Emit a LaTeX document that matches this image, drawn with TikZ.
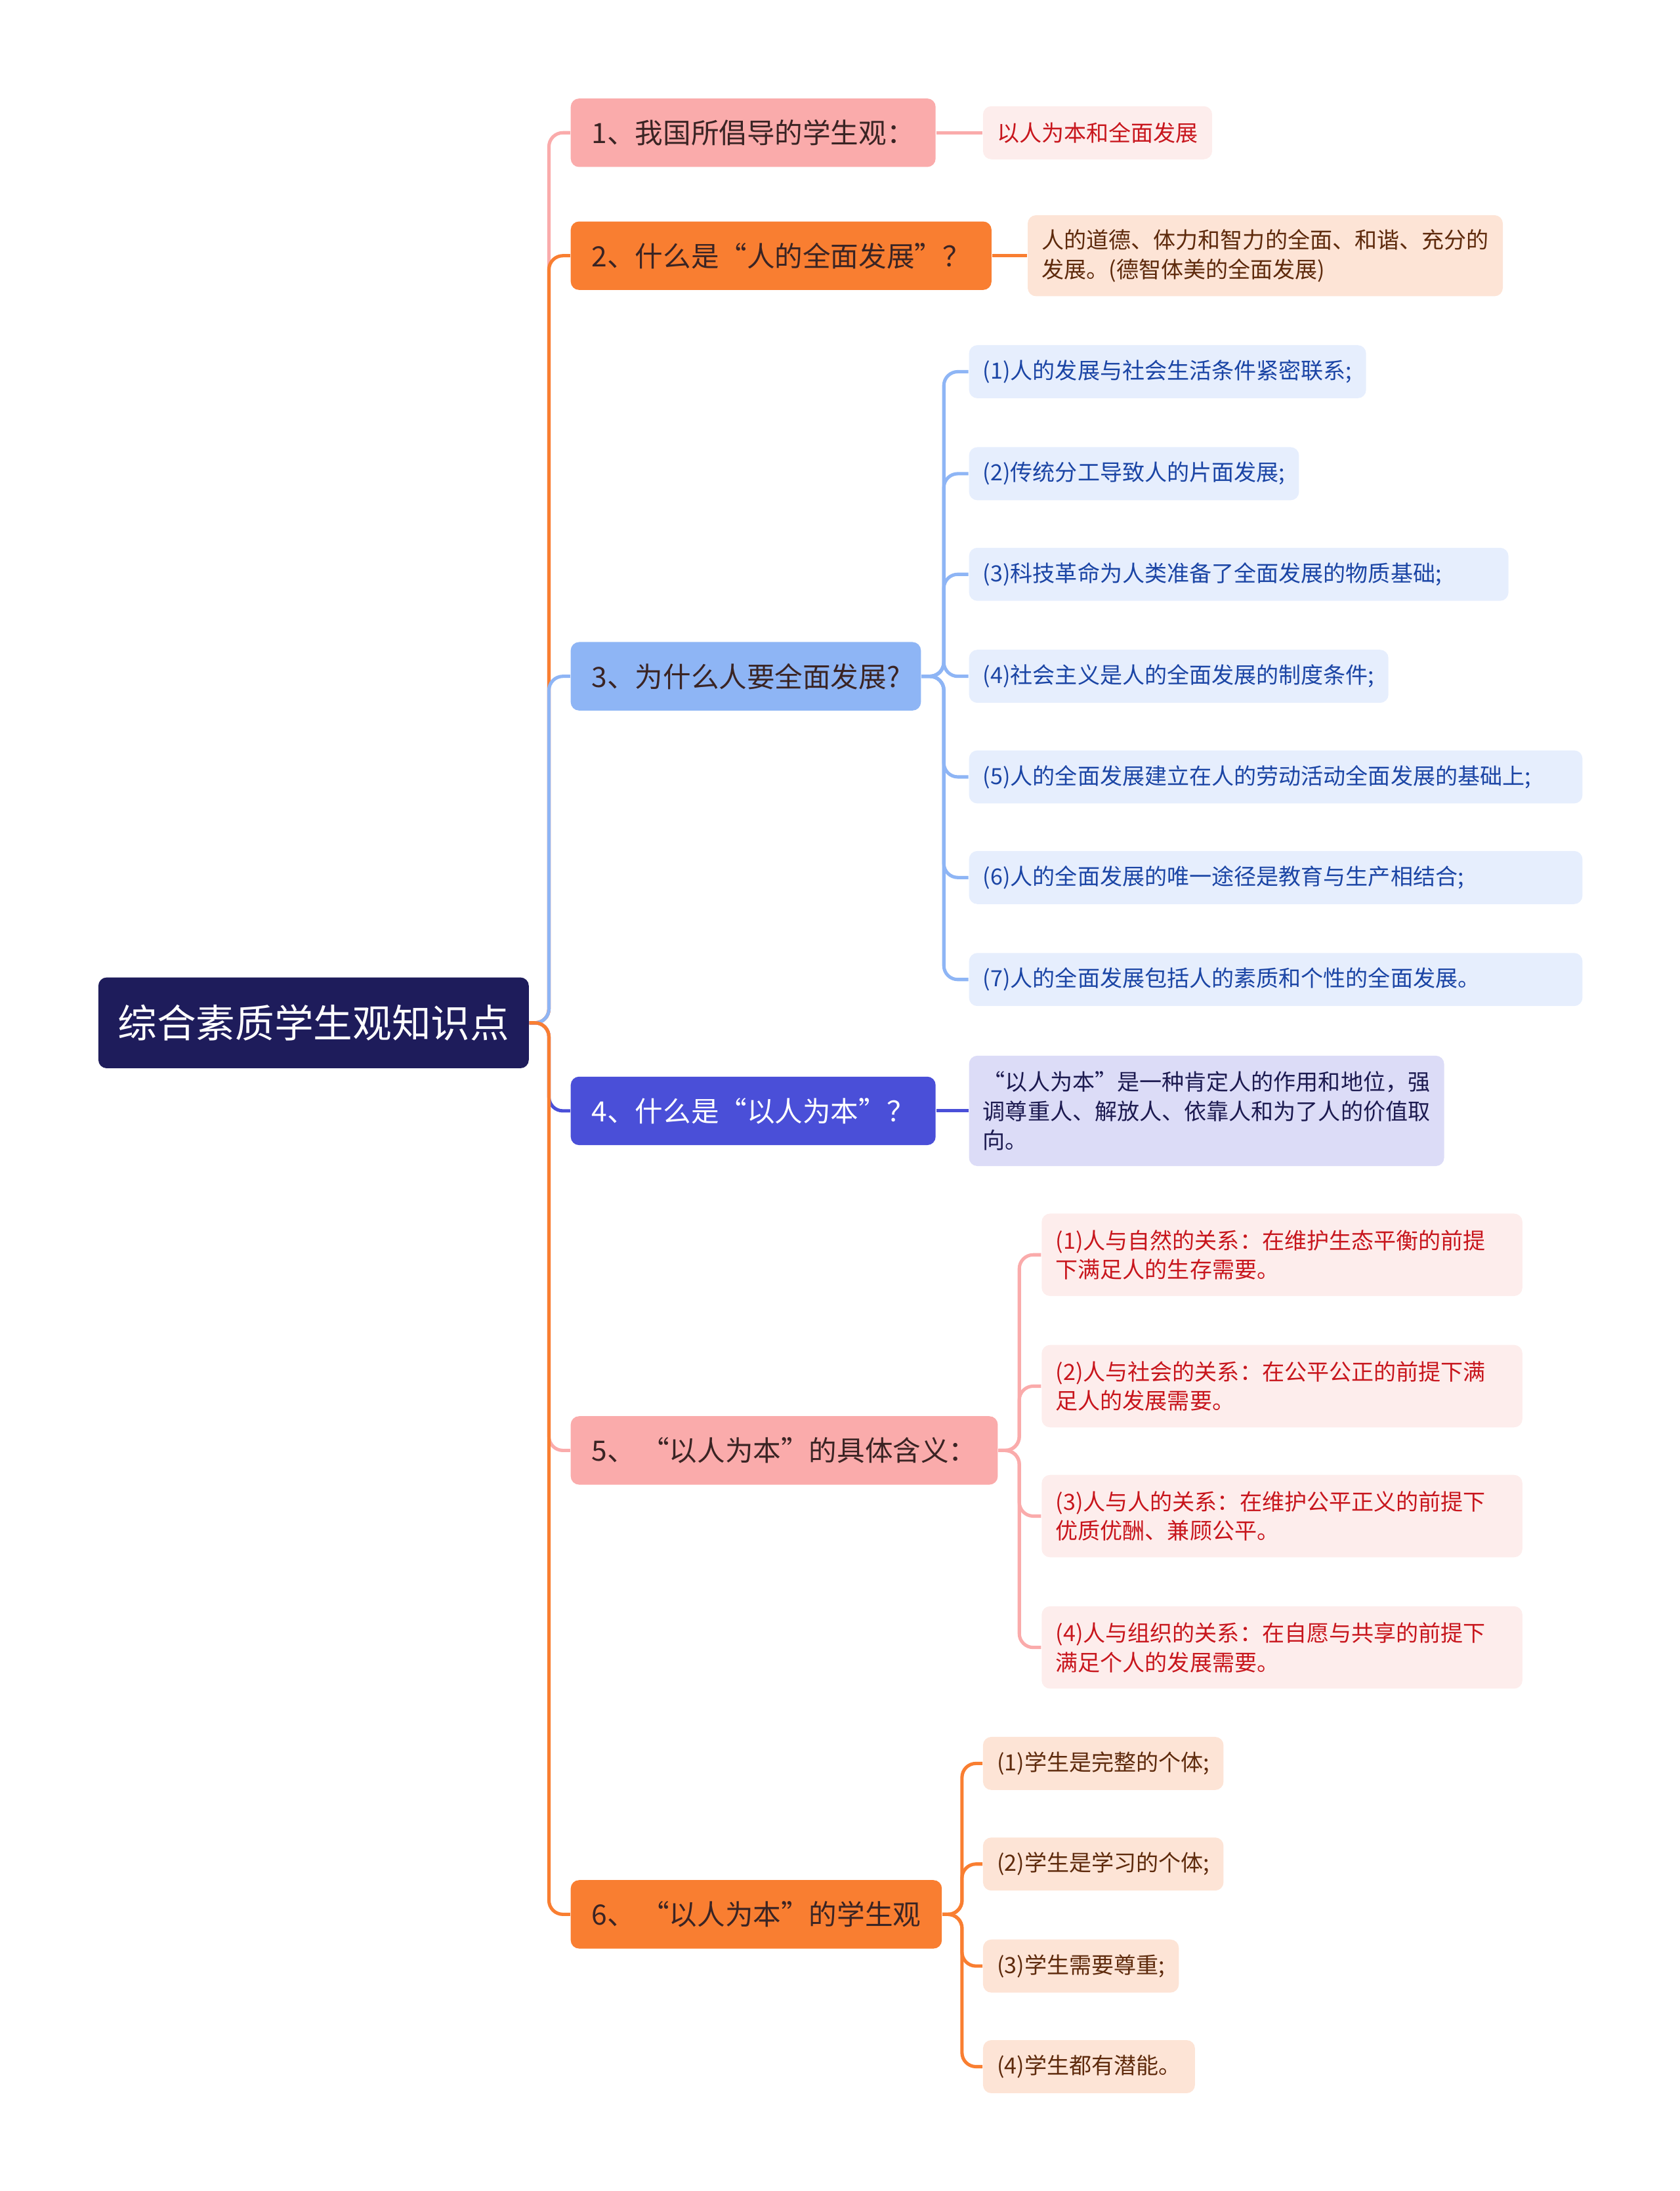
\documentclass[tikz,border=0pt]{standalone}
\usepackage{fontspec}
\setmainfont{Noto Sans CJK SC}
\definecolor{rootc}{HTML}{1E1C5B}
\definecolor{pinkc}{HTML}{FAABAB}
\definecolor{pinkleaf}{HTML}{FDEDEC}
\definecolor{pinktxt}{HTML}{C8161D}
\definecolor{orangec}{HTML}{F97E31}
\definecolor{peachleaf}{HTML}{FDE4D6}
\definecolor{browntxt}{HTML}{5E2A0C}
\definecolor{bluec}{HTML}{8EB5F5}
\definecolor{blueleaf}{HTML}{E6EEFD}
\definecolor{bluetxt}{HTML}{1B45A5}
\definecolor{indigoc}{HTML}{4A4FD8}
\definecolor{lavleaf}{HTML}{DCDCF7}
\definecolor{navytxt}{HTML}{1C1A50}
\definecolor{darktxt}{HTML}{3A2424}

\begin{document}
\begin{tikzpicture}[x=0.5pt, y=-0.5pt,
	mainbox/.style={fill=rootc, text=white, rounded corners=3pt, anchor=west,
		minimum height=32.5pt, inner xsep=7pt, font=\fontsize{14}{16}\selectfont},
	topicbox/.style={rounded corners=3pt, anchor=west, text=darktxt,
		minimum height=24.5pt, inner xsep=7.5pt, font=\fontsize{10}{12}\selectfont},
	leafbox/.style={rounded corners=3pt, anchor=west, align=left,
		minimum height=19pt, inner xsep=5pt, font=\fontsize{8}{10.5}\selectfont},
	linkline/.style={line width=1.2pt, rounded corners=5pt}]
	\useasboundingbox (0,0) rectangle (1202,1568);
	
	% 中心主题
	\node[mainbox] (root) at (70,732) {综合素质学生观知识点};
	
	% 一级分支
	\node[topicbox, fill=pinkc] (c1) at (408,95) {1、我国所倡导的学生观：};
	\node[topicbox, fill=orangec] (c2) at (408,183) {2、什么是“人的全面发展”？};
	\node[topicbox, fill=bluec] (c3) at (408,484) {3、为什么人要全面发展?};
	\node[topicbox, fill=indigoc, text=white] (c4) at (408,795) {4、什么是“以人为本”？};
	\node[topicbox, fill=pinkc] (c5) at (408,1038) {5、 “以人为本”的具体含义：};
	\node[topicbox, fill=orangec] (c6) at (408,1370) {6、 “以人为本”的学生观};
	
	\draw[linkline, pinkc] (root.east) -- ++(14,0) |- (c1.west);
	\draw[linkline, orangec] (root.east) -- ++(14,0) |- (c2.west);
	\draw[linkline, bluec] (root.east) -- ++(14,0) |- (c3.west);
	\draw[linkline, indigoc] (root.east) -- ++(14,0) |- (c4.west);
	\draw[linkline, pinkc] (root.east) -- ++(14,0) |- (c5.west);
	\draw[linkline, orangec] (root.east) -- ++(14,0) |- (c6.west);
	
	% 分支1、2
	\node[leafbox, fill=pinkleaf, text=pinktxt] (l11) at (703,95) {以人为本和全面发展};
	\draw[linkline, pinkc] (c1.east) -- (l11.west);
	\node[leafbox, fill=peachleaf, text=browntxt, minimum height=29pt] (l21) at (735,183)
		{人的道德、体力和智力的全面、和谐、充分的\\发展。(德智体美的全面发展)};
	\draw[linkline, orangec] (c2.east) -- (l21.west);
	
	% 分支3
	\node[leafbox, fill=blueleaf, text=bluetxt] (l31) at (693,266) {(1)人的发展与社会生活条件紧密联系;};
	\node[leafbox, fill=blueleaf, text=bluetxt] (l32) at (693,339) {(2)传统分工导致人的片面发展;};
	\node[leafbox, fill=blueleaf, text=bluetxt, text width=183pt] (l33) at (693,411) {(3)科技革命为人类准备了全面发展的物质基础;};
	\node[leafbox, fill=blueleaf, text=bluetxt] (l34) at (693,484) {(4)社会主义是人的全面发展的制度条件;};
	\node[leafbox, fill=blueleaf, text=bluetxt, text width=209.5pt] (l35) at (693,556) {(5)人的全面发展建立在人的劳动活动全面发展的基础上;};
	\node[leafbox, fill=blueleaf, text=bluetxt, text width=209.5pt] (l36) at (693,628) {(6)人的全面发展的唯一途径是教育与生产相结合;};
	\node[leafbox, fill=blueleaf, text=bluetxt, text width=209.5pt] (l37) at (693,701) {(7)人的全面发展包括人的素质和个性的全面发展。};
	\foreach \k in {1,...,7}
		\draw[linkline, bluec] (c3.east) -- ++(16,0) |- (l3\k.west);
	
	% 分支4
	\node[leafbox, fill=lavleaf, text=navytxt, minimum height=39.5pt] (l41) at (693,795)
		{“以人为本”是一种肯定人的作用和地位，强\\调尊重人、解放人、依靠人和为了人的价值取\\向。};
	\draw[linkline, indigoc] (c4.east) -- (l41.west);
	
	% 分支5
	\node[leafbox, fill=pinkleaf, text=pinktxt, minimum height=29.5pt, text width=162pt] (l51) at (745,898)
		{(1)人与自然的关系：在维护生态平衡的前提\\下满足人的生存需要。};
	\node[leafbox, fill=pinkleaf, text=pinktxt, minimum height=29.5pt, text width=162pt] (l52) at (745,992)
		{(2)人与社会的关系：在公平公正的前提下满\\足人的发展需要。};
	\node[leafbox, fill=pinkleaf, text=pinktxt, minimum height=29.5pt, text width=162pt] (l53) at (745,1085)
		{(3)人与人的关系：在维护公平正义的前提下\\优质优酬、兼顾公平。};
	\node[leafbox, fill=pinkleaf, text=pinktxt, minimum height=29.5pt, text width=162pt] (l54) at (745,1179)
		{(4)人与组织的关系：在自愿与共享的前提下\\满足个人的发展需要。};
	\foreach \k in {1,...,4}
		\draw[linkline, pinkc] (c5.east) -- ++(15,0) |- (l5\k.west);
	
	% 分支6
	\node[leafbox, fill=peachleaf, text=browntxt] (l61) at (703,1262) {(1)学生是完整的个体;};
	\node[leafbox, fill=peachleaf, text=browntxt] (l62) at (703,1334) {(2)学生是学习的个体;};
	\node[leafbox, fill=peachleaf, text=browntxt] (l63) at (703,1407) {(3)学生需要尊重;};
	\node[leafbox, fill=peachleaf, text=browntxt] (l64) at (703,1479) {(4)学生都有潜能。};
	\foreach \k in {1,...,4}
		\draw[linkline, orangec] (c6.east) -- ++(14,0) |- (l6\k.west);
\end{tikzpicture}
\end{document}
